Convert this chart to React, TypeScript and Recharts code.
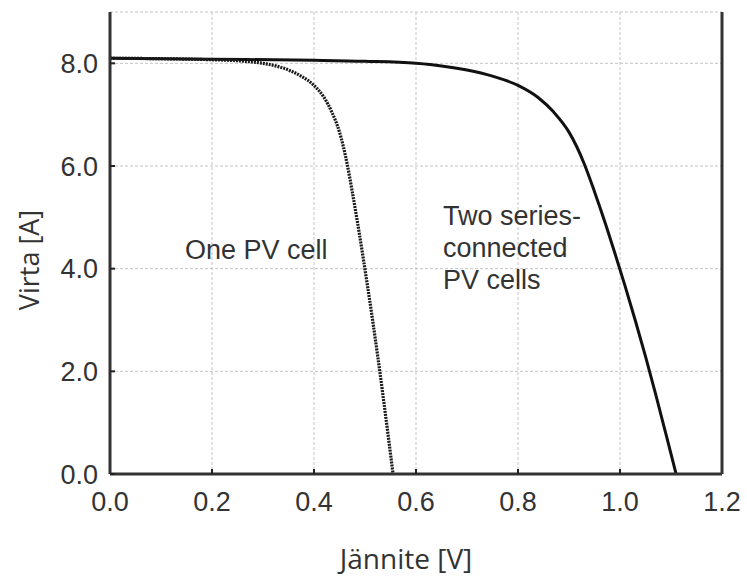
import React from 'react';
import {
  LineChart, Line, XAxis, YAxis, CartesianGrid, ReferenceDot,
} from 'recharts';

// one PV cell
const oneCellV = [0, 0.1, 0.2, 0.25, 0.3, 0.325, 0.35, 0.375, 0.4, 0.42, 0.435, 0.45, 0.4575, 0.465, 0.475, 0.485, 0.495, 0.505, 0.515, 0.525, 0.535, 0.545, 0.555];
const oneCellI = [8.1, 8.09, 8.07, 8.05, 8.0, 7.95, 7.87, 7.75, 7.57, 7.33, 7.05, 6.66, 6.38, 6.04, 5.5, 4.92, 4.3, 3.66, 2.99, 2.29, 1.55, 0.78, 0];

// two series-connected cells, solid curve
const twoCellV = [0, 0.2, 0.4, 0.5, 0.6, 0.65, 0.7, 0.75, 0.8, 0.84, 0.87, 0.9, 0.915, 0.93, 0.95, 0.97, 0.99, 1.01, 1.03, 1.05, 1.07, 1.09, 1.11];
const twoCellI = [8.1, 8.08, 8.06, 8.04, 8.0, 7.95, 7.87, 7.75, 7.57, 7.33, 7.05, 6.66, 6.38, 6.04, 5.5, 4.92, 4.3, 3.66, 2.99, 2.29, 1.55, 0.78, 0];

const xTicks = [0, 0.2, 0.4, 0.6, 0.8, 1.0, 1.2];
const yTicks = [0, 2, 4, 6, 8];

const oneCell = oneCellV.map((v, i) => ({ v, i: oneCellI[i] }));
const twoCell = twoCellV.map((v, i) => ({ v, i: twoCellI[i] }));

const TICK_FONT = '"Liberation Sans", Arial, sans-serif';
const LABEL_FONT = '"Open Sans", "Noto Sans", sans-serif';
const INK = '#333';

const fmt = (n: number) => n.toFixed(1);
const blank = () => '';

const Note = ({ viewBox, lines }: any) => {
  if (!viewBox) return null;
  return (
    <text
      x={viewBox.x}
      y={viewBox.y}
      fill="#333"
      fontSize={27}
      fontFamily={TICK_FONT}
      dominantBaseline="central"
    >
      {lines.map((l: string, k: number) => (
        <tspan key={k} x={viewBox.x} y={viewBox.y + k * 32}>{l}</tspan>
      ))}
    </text>
  );
};

const XTitle = ({ viewBox }: any) => (
  <text
    x={viewBox.x + viewBox.width / 2 - 10}
    y={558}
    textAnchor="middle"
    dominantBaseline="central"
    fill={INK}
    fontSize={28}
    fontFamily={LABEL_FONT}
  >
    Jännite [V]
  </text>
);

const YTitle = () => (
  <text
    x={28}
    y={260}
    transform="rotate(-90 28 260)"
    textAnchor="middle"
    dominantBaseline="central"
    fill={INK}
    fontSize={27}
    fontFamily={LABEL_FONT}
  >
    Virta [A]
  </text>
);

export default function App() {
  const tickStyle = { fill: '#333', fontSize: 27, fontFamily: TICK_FONT };
  return (
    <div style={{ position: 'absolute', left: 0, top: 0, background: '#fff' }}>
      <LineChart width={747} height={576} margin={{ top: 12, right: 0, bottom: 0, left: 0 }}>
        <CartesianGrid stroke="#c4c4c4" strokeDasharray="3 2" />
        <XAxis
          type="number"
          dataKey="v"
          domain={[0, 1.2]}
          ticks={xTicks}
          tickFormatter={fmt}
          height={102}
          tick={tickStyle}
          tickSize={-5}
          tickMargin={23}
          tickLine={{ stroke: '#222', strokeWidth: 2 }}
          axisLine={{ stroke: INK, strokeWidth: 3 }}
          label={<XTitle />}
        />
        <XAxis
          xAxisId="top"
          orientation="top"
          type="number"
          domain={[0, 1.2]}
          ticks={xTicks}
          tickFormatter={blank}
          height={0}
          tickSize={-5}
          tickLine={{ stroke: '#222', strokeWidth: 2 }}
          axisLine={{ stroke: INK, strokeWidth: 3 }}
        />
        <YAxis
          type="number"
          domain={[0, 9]}
          ticks={yTicks}
          tickFormatter={fmt}
          width={110}
          tick={tickStyle}
          tickSize={-5}
          tickMargin={17}
          tickLine={{ stroke: '#222', strokeWidth: 2 }}
          axisLine={{ stroke: INK, strokeWidth: 3 }}
          label={<YTitle />}
        />
        <YAxis
          yAxisId="right"
          orientation="right"
          type="number"
          domain={[0, 9]}
          ticks={yTicks}
          tickFormatter={blank}
          width={25}
          tickSize={-5}
          tickLine={{ stroke: '#222', strokeWidth: 2 }}
          axisLine={{ stroke: INK, strokeWidth: 3 }}
        />
        <Line
          data={twoCell}
          dataKey="i"
          type="monotone"
          stroke="#111"
          strokeWidth={3}
          dot={false}
          isAnimationActive={false}
        />
        <Line
          data={oneCell}
          dataKey="i"
          type="monotone"
          stroke="#1a1a1a"
          strokeWidth={3.2}
          strokeDasharray="2 1"
          dot={false}
          isAnimationActive={false}
        />
        <ReferenceDot
          x={0.147}
          y={4.37}
          r={0}
          fill="none"
          stroke="none"
          ifOverflow="visible"
          label={<Note lines={['One PV cell']} />}
        />
        <ReferenceDot
          x={0.653}
          y={5.03}
          r={0}
          fill="none"
          stroke="none"
          ifOverflow="visible"
          label={<Note lines={['Two series-', 'connected', 'PV cells']} />}
        />
      </LineChart>
    </div>
  );
}
